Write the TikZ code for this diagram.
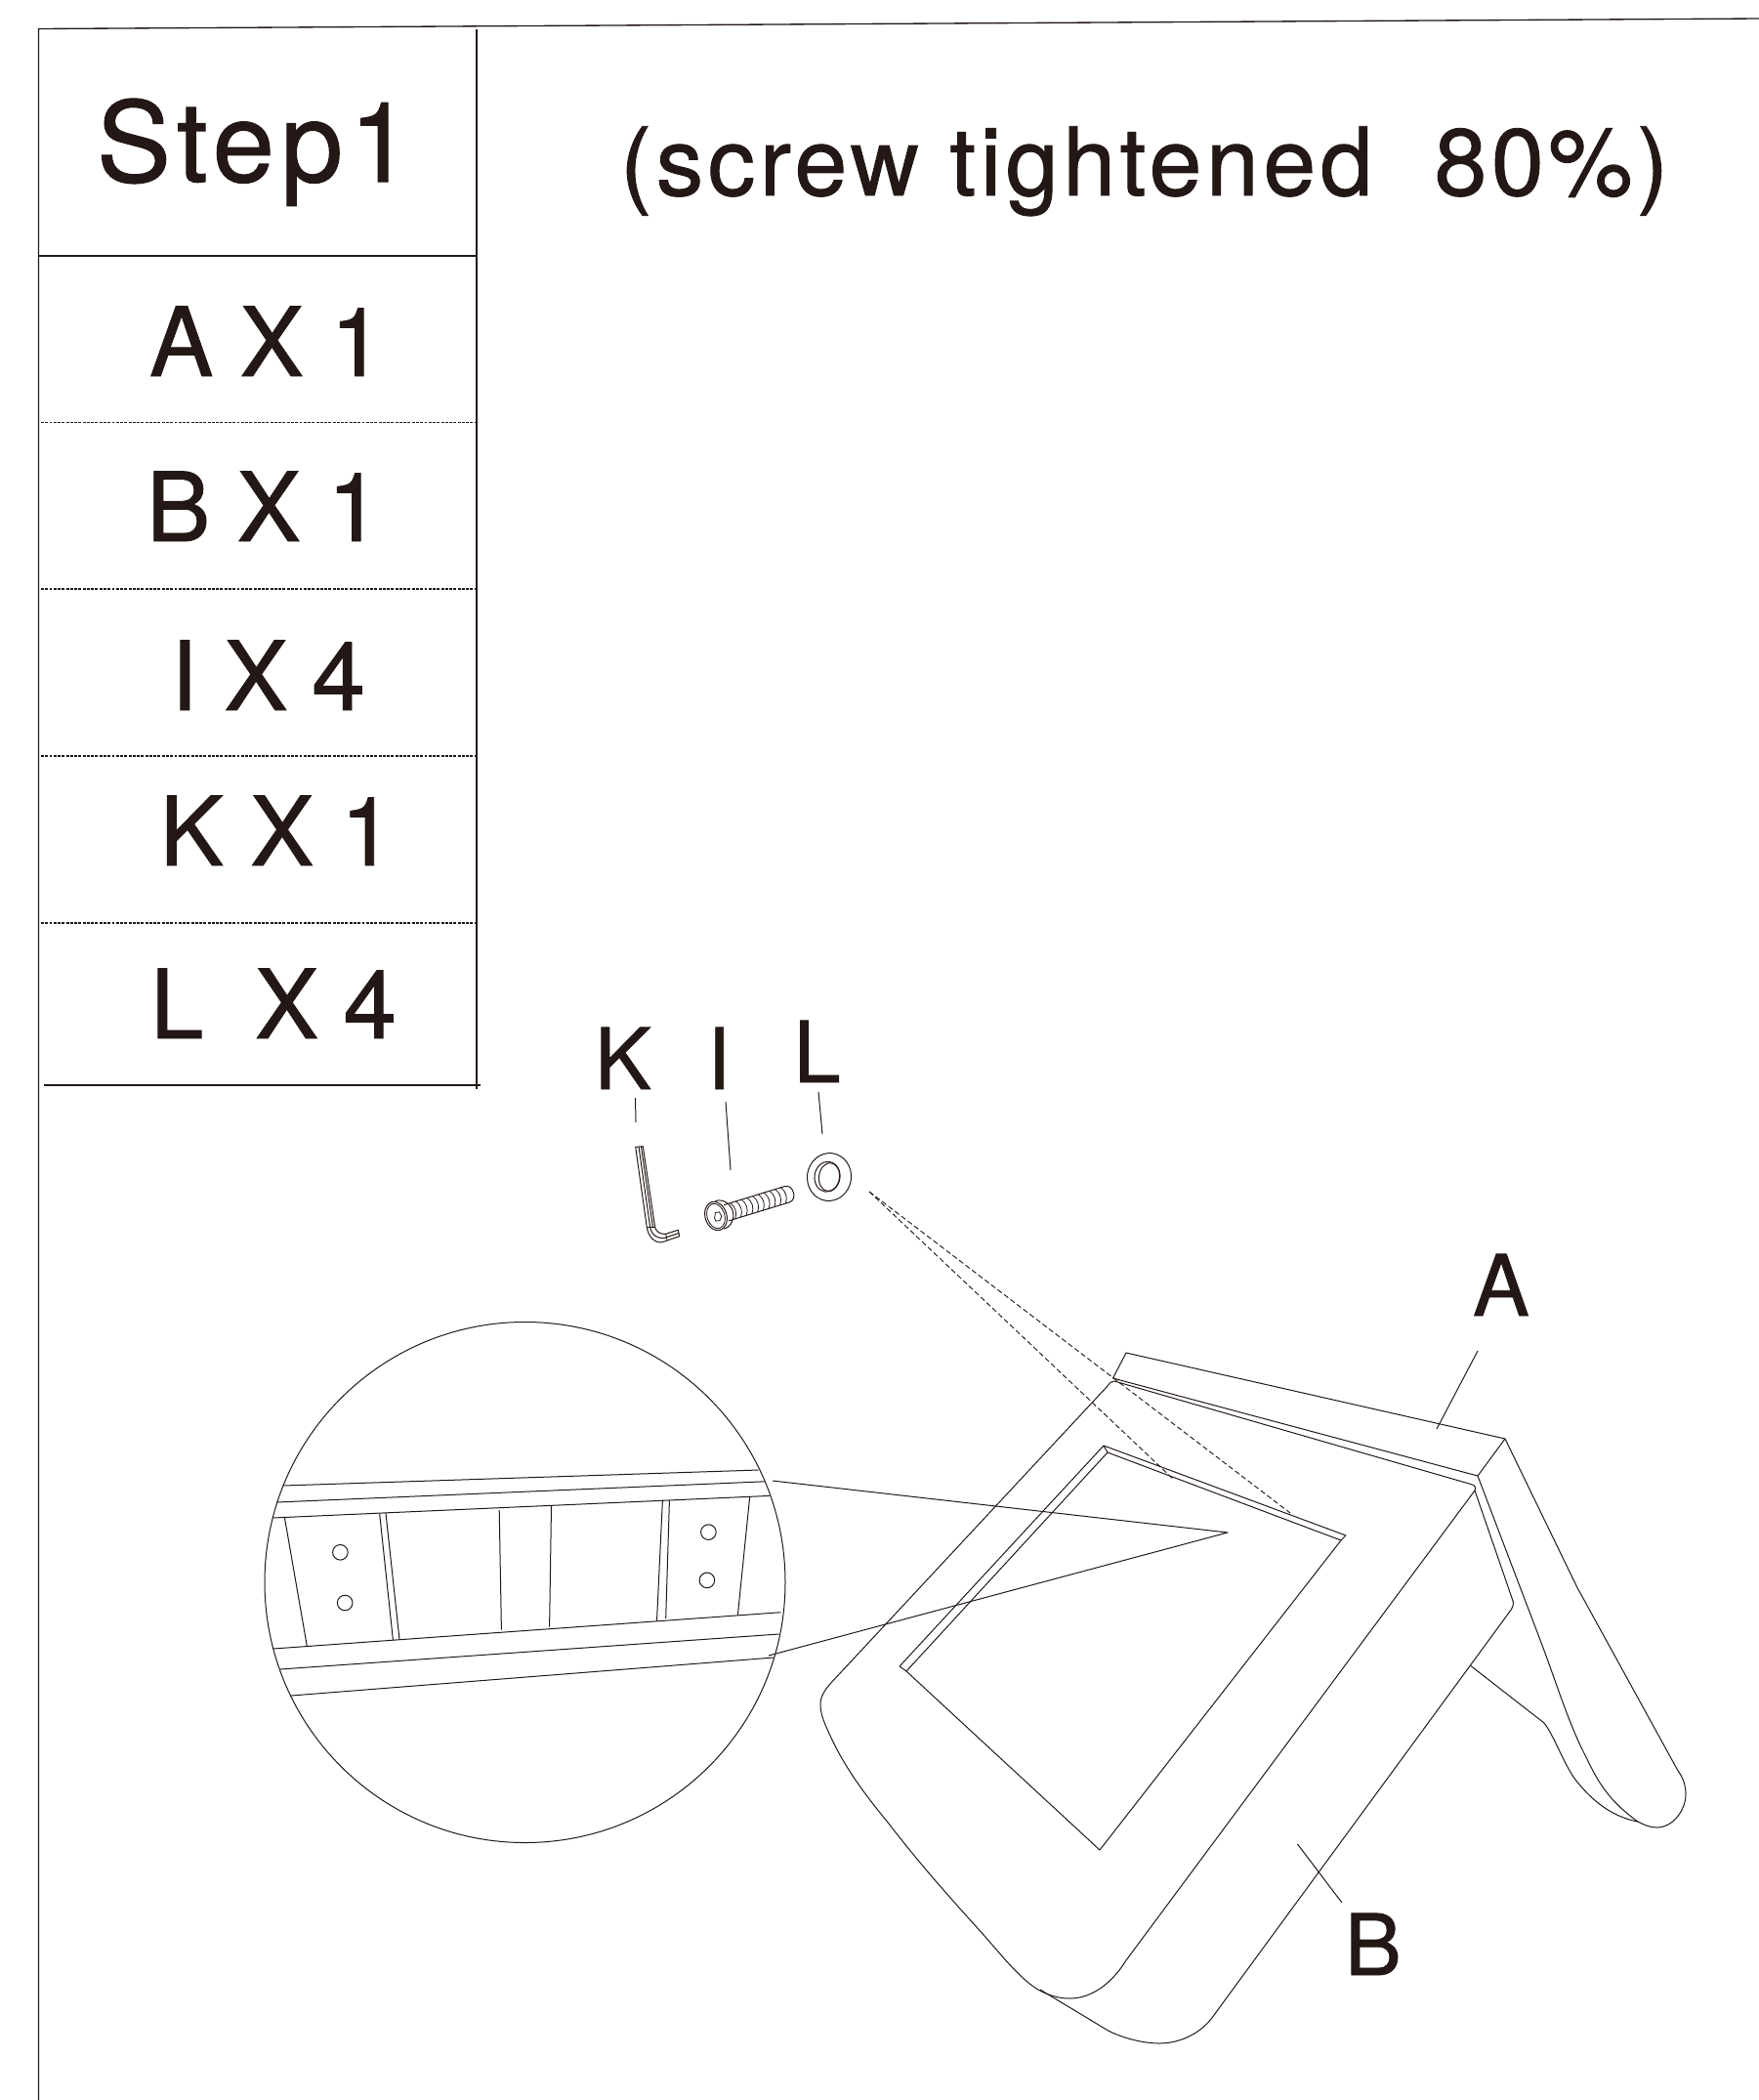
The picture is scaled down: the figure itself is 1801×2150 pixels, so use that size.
\documentclass[tikz,border=0pt]{standalone}
\usepackage{fontspec}
\setmainfont[FakeBold=0.9]{TeX Gyre Heros}
\newfontfamily\titlefont[LetterSpace=4.6,FakeBold=0.9]{TeX Gyre Heros}
\newfontfamily\stepfontface[LetterSpace=5.8,FakeBold=0.9]{TeX Gyre Heros}
\definecolor{ink}{HTML}{231815}
\tikzset{
  x=0.75pt,y=-0.75pt,
  art/.style={line width=0.75pt,draw=ink,line join=round},
  rule/.style={line width=1pt,draw=ink},
  tabledash/.style={line width=0.8pt,draw=ink,dash pattern=on 2.2pt off 1pt},
  hiddenline/.style={line width=0.7pt,draw=ink,dash pattern=on 4pt off 2.2pt},
  tiny/.style={line width=0.6pt,draw=ink},
  txt/.style={anchor=base west,inner sep=0pt,outer sep=0pt,text=ink},
  stepfont/.style={txt,font=\stepfontface\fontsize{85.5}{90}\selectfont},
  rowfont/.style={txt,font=\fontsize{73.5}{80}\selectfont},
  titlestyle/.style={txt,font=\titlefont\fontsize{72.75}{80}\selectfont},
  labelfont/.style={txt,font=\fontsize{65}{70}\selectfont}
}
\begin{document}
\begin{tikzpicture}
\useasboundingbox (0,0) rectangle (1801,2150);
% frame and table
\draw[rule] (39.5,2150) -- (39.5,29.5) -- (1801,19);
\draw[rule] (488,30) -- (488,1115);
\draw[rule] (39.5,262) -- (488,262);
\foreach \yy in {432.5,603,774,945} \draw[tabledash] (42,\yy) -- (488,\yy);
\draw[rule] (45,1111) -- (492,1111);
% table text
\node[stepfont] (step) at (99,186) {Step1};
\node[rowfont] (rowa) at (153,385) {A X 1};
\node[rowfont] (rowb) at (150,554) {B X 1};
\node[rowfont] (rowi) at (175,727) {I X\kern-2pt\ 4};
\node[rowfont] (rowk) at (163.5,886) {K X 1};
\node[rowfont] (rowl) at (154,1063) {L\ \kern-1.5pt\ X\kern-1.5pt\ 4};
\node[titlestyle] (title) at (635,200) {(screw tightened\ \ 80\%)};
% part labels
\node[labelfont] (lk) at (609,1115) {K};
\node[labelfont] (li) at (724,1115) {I};
\node[labelfont] (ll) at (812.6,1108) {L};
\node[labelfont] (la) at (1508,1347) {A};
\node[labelfont] (lb) at (1377,2022) {B};
% leaders
\draw[art] (650.5,1124) -- (651,1149);
\draw[art] (743,1128) -- (748,1198);
\draw[art] (838,1118) -- (842,1161);
\draw[art] (1513,1383) -- (1471,1463);
\draw[art] (1328.5,1888) -- (1374,1948);
% hex key
\draw[art] (650.7,1174.3) -- (658.3,1173.7) -- (670.7,1256.7) .. controls (672,1261) and (676,1264) .. (681.7,1263.3) -- (694.3,1259.3) -- (695.7,1265.7) -- (678.3,1271.7) .. controls (670,1273) and (664,1266) .. (662.3,1256.7) -- cycle;
\draw[art] (654,1174) -- (665.7,1256.7) .. controls (667,1264) and (672,1268) .. (680,1267.5) -- (695,1262.5);
\draw[art] (656.5,1174) -- (668.5,1256.7);
\draw[tiny] (662.3,1256.7) -- (670.7,1256.7);
\draw[tiny] (681.7,1263.3) -- (683,1269.5);
% bolt
\begin{scope}[shift={(733,1245)},rotate=17]
  \draw[art] (11,-8.5) -- (76,-8.5) .. controls (81,-8.5) and (83,-4) .. (83,0) .. controls (83,4) and (81,8.5) .. (76,8.5) -- (11,8.5);
  \foreach \tx in {18,24,30,36,42,48,54,60,66,72}
    \draw[tiny] (\tx,-8.5) .. controls (\tx+4,-3.5) and (\tx+4,3.5) .. (\tx,8.5);
  \draw[art] (4,-15) .. controls (12,-15) and (18,-8) .. (18,0) .. controls (18,8) and (12,15) .. (4,15);
  \draw[art,fill=white] (0,0) ellipse [x radius=11,y radius=15];
  \draw[tiny] (0,0) ellipse [x radius=9,y radius=13];
  \draw[tiny] (-2,1.5) -- (0.5,-3.5) -- (4.5,-3) -- (5.5,2) -- (2.5,5.5) -- (-1.5,5) -- cycle;
\end{scope}
% washer
\begin{scope}[shift={(849,1205)},rotate=-8]
  \draw[art] (0,0) ellipse [x radius=22.5,y radius=24.5];
  \draw[art] (-2,0) ellipse [x radius=13,y radius=15.5];
  \draw[art] (0,0) ellipse [x radius=10.5,y radius=14.5];
\end{scope}
% seat back A
\draw[art] (1139.5,1411) -- (1153,1385) -- (1541,1473) -- (1513,1511) -- cycle;
\draw[art] (1541,1473) -- (1615,1625.5) -- (1717.5,1812) .. controls (1724,1821) and (1726,1829) .. (1726,1837) .. controls (1726,1852) and (1714,1871) .. (1696,1871) .. controls (1689,1871) and (1683,1868) .. (1677,1865);
\draw[art] (1513,1511) -- (1576,1676.5) .. controls (1592,1718) and (1606,1765) .. (1624,1799) .. controls (1635,1822) and (1646,1843) .. (1677,1865);
\draw[art] (1506,1705.6) -- (1581,1764) .. controls (1592,1778) and (1602,1809) .. (1615,1824.5) .. controls (1630,1843) and (1650,1860) .. (1677,1865);
% seat cushion B
\draw[art] (1141,1414) -- (1506,1519.5) .. controls (1510,1520.5) and (1511.5,1522.5) .. (1510,1526) -- (1153,2007) .. controls (1140,2028) and (1120,2046) .. (1095,2046) .. controls (1080,2046) and (1065,2040) .. (1053,2030) .. controls (1035,2015) and (1020,1995) .. (1000,1973) .. controls (970,1940) and (940,1906) .. (910,1867) .. controls (888,1840) and (866,1812) .. (850,1777) .. controls (845,1766) and (840,1756) .. (840,1745) .. controls (840,1735) and (846,1728) .. (856.7,1716.7) -- (1134,1419) .. controls (1136,1416) and (1138,1414) .. (1141,1414);
\draw[art] (1510,1526) -- (1548,1636) .. controls (1551,1642) and (1549,1646) .. (1545,1651) -- (1243,2063) .. controls (1230,2082) and (1208,2092) .. (1187,2092) .. controls (1170,2092) and (1147,2086) .. (1133,2078) -- (1065,2037);
% seat opening
\draw[art] (1130,1480) -- (1378,1572) -- (1373,1577) -- (1134,1487) -- cycle;
\draw[art] (1130,1480) -- (921,1706) -- (928,1711) -- (1134,1487);
\draw[art] (928,1711) -- (1126,1894) -- (1373,1577);
% hidden lines from washer
\coordinate (dashstart) at (890,1220);
\draw[hiddenline] (dashstart) -- (1321,1549);
\draw[hiddenline] (dashstart) -- (1202,1515);
% detail circle
\node[draw=ink,line width=0.75pt,circle,minimum size=533*0.75pt,inner sep=0pt] (detail) at (537.5,1620) {};
\coordinate (tip) at (1257,1569);
\draw[art] (791,1516) -- (tip) -- (787,1695);
\draw[art] (289.6,1521) -- (776.5,1505);
\draw[art] (283,1538) -- (782.7,1516.8);
\draw[art] (279,1554) -- (788,1531.4);
\draw[art] (279.6,1688) -- (799.4,1650.7);
\draw[art] (287,1709) -- (797.5,1673);
\draw[art] (298,1736) -- (792,1697);
\draw[art] (291.4,1553.6) -- (314.4,1685.7);
\draw[art] (388.7,1550) -- (402.4,1679);
\draw[art] (395,1549) -- (409,1678.6);
\draw[art] (511.2,1546) -- (513.4,1668.6);
\draw[art] (564.5,1541.8) -- (562.6,1665.7);
\draw[art] (678.4,1535.7) -- (672.5,1659.6);
\draw[art] (685.4,1536.4) -- (681.7,1656.8);
\draw[art] (767.6,1532.9) -- (755.4,1653.6);
\foreach \hx/\hy in {348.4/1589.3,353.2/1641,725.4/1568.6,723.9/1617.9}
  \draw[art] (\hx,\hy) circle [radius=7.8pt*0.75];
\end{tikzpicture}
\end{document}
